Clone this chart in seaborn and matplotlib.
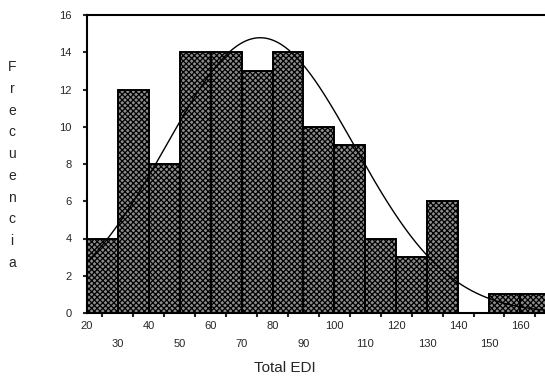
import numpy as np
import pandas as pd
import matplotlib
matplotlib.use("Agg")
import matplotlib.pyplot as plt
import seaborn as sns

# Data
bin_edges = [20, 30, 40, 50, 60, 70, 80, 90, 100, 110, 120, 130, 140, 150, 160, 170]
counts = [4, 12, 8, 14, 14, 13, 14, 10, 9, 4, 3, 6, 0, 1, 1]
normal_mean = 76.0
normal_sd = 30.5
x_tick_values = [20, 30, 40, 50, 60, 70, 80, 90, 100, 110, 120, 130, 140, 150, 160]
y_tick_values = [0, 2, 4, 6, 8, 10, 12, 14, 16]
x_label = "Total EDI"
y_label = "Frecuencia"

sns.set_style("white")
plt.rcParams['font.family'] = ['Liberation Sans', 'DejaVu Sans']
plt.rcParams['hatch.color'] = '#262626'
plt.rcParams['hatch.linewidth'] = 0.9

fig = plt.figure(figsize=(5.45, 3.78), dpi=100)
ax = fig.add_axes([87/545, 1 - 313/378, 458/545, (313 - 15)/378])

centers = [(bin_edges[i] + bin_edges[i + 1]) / 2 for i in range(len(counts))]
df = pd.DataFrame({"x": centers, "w": counts})
sns.histplot(data=df, x="x", weights="w", bins=bin_edges, ax=ax,
             color="#8c8c8c", alpha=1.0, edgecolor="black", linewidth=1.4)
for p in ax.patches:
    p.set_hatch("xxxxxx")

# fitted normal curve
n_total = sum(counts)
bw = bin_edges[1] - bin_edges[0]
xs = np.linspace(bin_edges[0], bin_edges[-1], 300)
ys = n_total * bw / (normal_sd * np.sqrt(2 * np.pi)) * np.exp(-0.5 * ((xs - normal_mean) / normal_sd) ** 2)
sns.lineplot(x=xs, y=ys, ax=ax, color="black", linewidth=1.0)

ax.set_xlim(20, 168.1)
ax.set_ylim(0, 16)
ax.set_xticks(x_tick_values)
ax.set_xticklabels([str(v) if i % 2 == 0 else "\n" + str(v) for i, v in enumerate(x_tick_values)],
                   fontsize=8, linespacing=2.0)
ax.set_xticks([v + 5 for v in x_tick_values], minor=True)
ax.tick_params(axis="x", which="major", length=0, pad=6)
ax.tick_params(axis="x", which="minor", length=3, width=1.5, direction="out", bottom=True)
ax.set_yticks(y_tick_values)
ax.set_yticklabels([str(v) for v in y_tick_values], fontsize=8)
ax.tick_params(axis="y", length=3, width=1.5, direction="out", left=True, pad=8)
ax.set_xlabel("")
ax.set_ylabel("")

for s in ["left", "bottom", "top"]:
    ax.spines[s].set_visible(True)
    ax.spines[s].set_color("black")
    ax.spines[s].set_linewidth(1.5)
ax.spines["right"].set_visible(False)

fig.text(285/545, 1 - 368/378, x_label, ha="center", va="center", fontsize=11)
fig.text(12/545, 1 - 165/378, "\n".join(y_label), ha="center", va="center",
         fontsize=10, linespacing=1.7)

fig.savefig("out.png", dpi=100)
